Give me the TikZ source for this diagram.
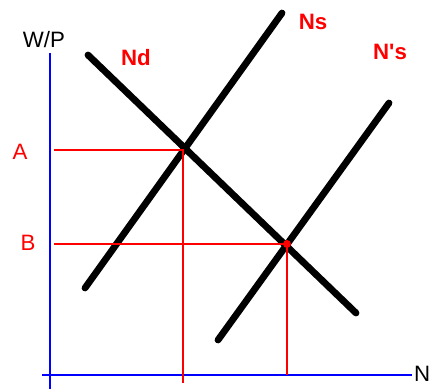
\documentclass[tikz,border=0pt]{standalone}
\usepackage{fontspec}
\setmainfont{Liberation Sans}
\usetikzlibrary{positioning}

\begin{document}
\begin{tikzpicture}[
    x=0.03cm, y=-0.03cm,
    axis/.style={draw=blue, line width=2.4pt},
    curve/.style={draw=black, line width=5.8pt, line cap=round},
    guide/.style={draw=red, line width=0.9pt},
    curvelabel/.style={text=red, font=\fontsize{19}{19}\selectfont\bfseries},
    levellabel/.style={text=red, font=\fontsize{19}{19}\selectfont},
    axislabel/.style={text=black, font=\fontsize{19}{19}\selectfont}
  ]
    \useasboundingbox (0,0) rectangle (431,389);

    % axes
    \coordinate (ytop) at (50,53);
    \coordinate (ybot) at (50,389);
    \coordinate (xleft) at (42,375);
    \coordinate (xright) at (412,375);
    \draw[axis] (ytop) -- (ybot);
    \draw[axis] (xleft) -- (xright);
    \node[axislabel] (wp) at (44,40) {W/P};
    \node[axislabel, anchor=east, inner sep=0pt] (n) at (430.5,374) {N};

    % curves
    \coordinate (nd1) at (88,55);
    \coordinate (nd2) at (356,313);
    \coordinate (ns1) at (85,288);
    \coordinate (ns2) at (282,13);
    \coordinate (nsp1) at (218,340);
    \coordinate (nsp2) at (389,103);
    \draw[curve] (nd1) -- (nd2);
    \draw[curve] (ns1) -- (ns2);
    \draw[curve] (nsp1) -- (nsp2);
    \node[curvelabel] (nd) at (136,58) {Nd};
    \node[curvelabel] (ns) at (313,22) {Ns};
    \node[curvelabel] (nsp) at (390,52) {N\textquotesingle s};

    % equilibria
    \coordinate (eqA) at (183,150);
    \coordinate (eqB) at (287,244);
    \node[levellabel] (a) at (20,152) {A};
    \node[levellabel] (b) at (28,243) {B};
    \draw[guide] (54,150) -- (eqA) -- (183,383);
    \draw[guide] (54,244) -- (eqB) -- (287,375);
    \fill[red] (eqB) circle (4);
\end{tikzpicture}
\end{document}
